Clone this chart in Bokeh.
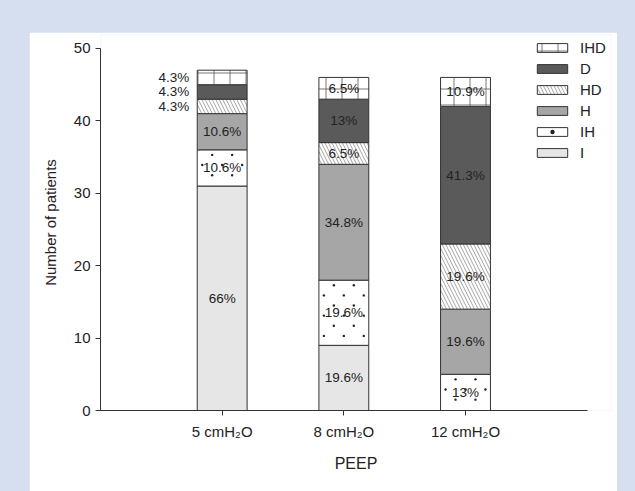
from bokeh.plotting import figure
from bokeh.models import (ColumnDataSource, Range1d, Legend, LegendItem,
                          FixedTicker, GlobalInlineStyleSheet)
from bokeh.core.properties import value
from bokeh.embed import file_html
from bokeh.resources import INLINE

# ---- data ----
categories = ["5 cmH\u2082O", "8 cmH\u2082O", "12 cmH\u2082O"]
statuses = ["I", "IH", "H", "HD", "D", "IHD"]
counts_I = [31, 9, 0]
counts_IH = [5, 9, 5]
counts_H = [5, 16, 9]
counts_HD = [2, 3, 9]
counts_D = [2, 6, 19]
counts_IHD = [2, 3, 4]
labels_I = ["66%", "19.6%", ""]
labels_IH = ["10.6%", "19.6%", "13%"]
labels_H = ["10.6%", "34.8%", "19.6%"]
labels_HD = ["4.3%", "6.5%", "19.6%"]
labels_D = ["4.3%", "13%", "41.3%"]
labels_IHD = ["4.3%", "6.5%", "10.9%"]
y_ticks = [0, 10, 20, 30, 40, 50]

counts = [counts_I, counts_IH, counts_H, counts_HD, counts_D, counts_IHD]
labels = [labels_I, labels_IH, labels_H, labels_HD, labels_D, labels_IHD]
xpos = [i + 1 for i in range(len(categories))]

# ---- styles ----
FONT = "Liberation Sans"
TXT = "#222222"
BAR_W = 0.41
fills = ["#e6e6e6", "#ffffff", "#a6a6a6", "#ffffff", "#5a5a5a", "#ffffff"]
hatches = [None, None, None, "left_diagonal_line", None, "cross"]
hatch_scales = [12, 12, 12, 7, 12, 16]
hatch_weights = [1, 1, 1, 0.6, 1, 0.8]
hatch_colors = ["#333333", "#333333", "#333333", "#666666", "#333333", "#555555"]

data = {"x": xpos}
for s, c in zip(statuses, counts):
    data[s] = c
source = ColumnDataSource(data)

p = figure(x_range=Range1d(0, 4.2), y_range=Range1d(0, 51.93),
           width=588, height=459, output_backend="svg", toolbar_location=None,
           min_border_left=71, min_border_right=6, min_border_top=2,
           min_border_bottom=81)
p.margin = (32, 0, 0, 29)
p.stylesheets = [GlobalInlineStyleSheet(
    css="body{margin:0;background-color:#d5dff0;}")]

renderers = p.vbar_stack(statuses, x="x", width=BAR_W, source=source,
                         fill_color=fills, line_color="#333333", line_width=1,
                         hatch_pattern=hatches, hatch_scale=hatch_scales,
                         hatch_weight=hatch_weights, hatch_color=hatch_colors)

# ---- sparse dot fill pattern for the IH segments (derived from segment bounds) ----
DX, DY = 0.082, 1.4
dots = {"x": [], "y": []}
for i, xv in enumerate(xpos):
    bottom = counts_I[i]
    top = bottom + counts_IH[i]
    if counts_IH[i] == 0:
        continue
    k = 0
    yv = top - 0.7
    while yv > bottom + 0.2:
        offs = [-1, 1] if k % 2 == 0 else [-2, 0, 2]
        for o in offs:
            dots["x"].append(xv + o * DX)
            dots["y"].append(yv)
        k += 1
        yv -= DY
dot_r = p.scatter(x="x", y="y", source=ColumnDataSource(dots), marker="circle",
                  size=2.4, fill_color="#222222", line_color=None)

# ---- segment labels ----
inside = {"x": [], "y": [], "t": []}
outside = {"x": [], "y": [], "t": []}
for i, xv in enumerate(xpos):
    cum = 0
    for cnt, lab in zip(counts, labels):
        c = cnt[i]
        if c > 0 and lab[i]:
            target = inside if c >= 3 else outside
            target["x"].append(xv)
            target["y"].append(cum + c / 2)
            target["t"].append(lab[i])
        cum += c

p.text(x="x", y="y", text="t", source=ColumnDataSource(inside),
       text_align="center", text_baseline="middle",
       text_font=value(FONT), text_font_size="13.5px", text_color=TXT)
p.text(x="x", y="y", text="t", source=ColumnDataSource(outside),
       text_align="right", text_baseline="middle", x_offset=-33,
       text_font=value(FONT), text_font_size="13.5px", text_color=TXT)

# ---- legend ----
items = []
for s, r in zip(statuses, renderers):
    rs = [r, dot_r] if s == "IH" else [r]
    items.append(LegendItem(label=s, renderers=rs))
items = items[::-1]
legend = Legend(items=items, location=(433, 249), padding=0, margin=0,
                spacing=3, glyph_width=38, glyph_height=11, label_height=18,
                label_standoff=9, label_text_font=FONT,
                label_text_font_size="15px", label_text_color=TXT,
                border_line_color=None, background_fill_alpha=0)
p.add_layout(legend)

# ---- axes ----
p.xgrid.visible = False
p.ygrid.visible = False
p.outline_line_color = None
p.background_fill_color = "white"
p.border_fill_color = "white"

p.xaxis.ticker = FixedTicker(ticks=xpos)
p.xaxis.major_label_overrides = {x: c for x, c in zip(xpos, categories)}
p.xaxis.bounds = (0, 4)
p.xaxis.minor_tick_line_color = None
p.yaxis.ticker = FixedTicker(ticks=y_ticks)
p.yaxis.bounds = (0, 50)
p.yaxis.minor_tick_line_color = None
for ax in (p.xaxis[0], p.yaxis[0]):
    ax.axis_line_color = "#333333"
    ax.major_tick_line_color = "#333333"
    ax.major_tick_out = 5
    ax.major_tick_in = 0
    ax.major_label_text_font = FONT
    ax.major_label_text_font_size = "15px"
    ax.major_label_text_color = TXT
    ax.axis_label_text_font = FONT
    ax.axis_label_text_font_style = "normal"
    ax.axis_label_text_color = TXT

p.yaxis.axis_label = "Number of patients"
p.yaxis.axis_label_text_font_size = "15px"
p.yaxis.major_label_standoff = 5
p.yaxis.axis_label_standoff = 12

p.xaxis.axis_label = "PEEP"
p.xaxis.axis_label_text_font_size = "16px"
p.xaxis.major_label_standoff = 7
p.xaxis.axis_label_standoff = 12

open("out.html", "w").write(file_html(p, INLINE))
